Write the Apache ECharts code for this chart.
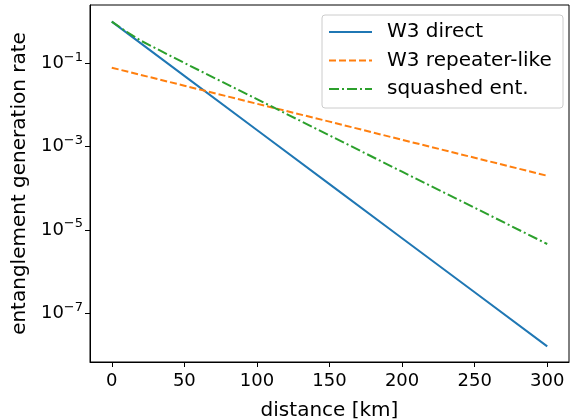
<!DOCTYPE html>
<html>
<head>
<meta charset="utf-8">
<script src="https://cdn.jsdelivr.net/npm/echarts@6/dist/echarts.min.js"></script>
<style>html,body{margin:0;padding:0;background:#fff}#c{width:570px;height:420px}</style>
</head>
<body>
<div id="c"></div>
<script>
var distance = [0, 50, 100, 150, 200, 250, 300];
var w3Direct = [1.0, 0.05, 2.5e-3, 1.26e-4, 6.3e-6, 3.2e-7, 1.6e-8];
var w3Repeater = [0.0785, 0.029, 0.0107, 3.98e-3, 1.46e-3, 5.4e-4, 2.0e-4];
var squashedX = [0, 10, 20, 50, 100, 150, 200, 250, 300];
var squashed = [1.0, 0.58, 0.35, 0.102, 0.0138, 1.86e-3, 2.5e-4, 3.4e-5, 4.6e-6];
var xTicks = [0, 50, 100, 150, 200, 250, 300];
var yTicks = [1e-1, 1e-3, 1e-5, 1e-7];
var seriesNames = ['W3 direct', 'W3 repeater-like', 'squashed ent.'];

function pairs(xs, ys) { return xs.map(function (x, i) { return [x, ys[i]]; }); }

var font = 'DejaVu Sans';
var chart = echarts.init(document.getElementById('c'), null, {renderer: 'canvas'});
chart.setOption({
  animation: false,
  backgroundColor: '#fff',
  grid: {left: 90, right: 1, top: 5, bottom: 58, containLabel: false, outerBoundsMode: 'none',
         show: true, borderColor: '#000', borderWidth: 1, backgroundColor: 'transparent'},
  legend: {
    orient: 'vertical', left: 322, top: 15,
    padding: [6, 6, 8, 6],
    backgroundColor: '#fff', borderColor: '#cccccc', borderWidth: 1, borderRadius: 3,
    itemStyle: {opacity: 0},
    itemWidth: 43, itemHeight: 22, itemGap: 6.5,
    textStyle: {fontFamily: font, fontSize: 20, color: '#000', lineHeight: 22, width: 170, padding: [0, 0, 0, 10]},
    data: seriesNames
  },
  xAxis: {
    type: 'value', min: -15, max: 315,
    name: 'distance [km]', nameLocation: 'middle', nameGap: 39,
    nameTextStyle: {fontFamily: font, fontSize: 20, color: '#000'},
    axisLine: {show: true, onZero: false, lineStyle: {color: '#000', width: 1}},
    axisTick: {show: true, inside: false, length: 5, lineStyle: {color: '#000'}, customValues: xTicks},
    axisLabel: {fontFamily: font, fontSize: 18, color: '#000', margin: 10, customValues: xTicks},
    splitLine: {show: false}
  },
  yAxis: {
    type: 'log', min: Math.pow(10, -8.17), max: Math.pow(10, 0.4),
    name: 'entanglement generation rate', nameLocation: 'middle', nameGap: 55, nameRotate: 90,
    nameTextStyle: {fontFamily: font, fontSize: 20, color: '#000'},
    axisLine: {show: true, onZero: false, lineStyle: {color: '#000', width: 1}},
    axisTick: {show: true, inside: false, length: 5, lineStyle: {color: '#000'}, customValues: yTicks},
    axisLabel: {
      fontFamily: font, fontSize: 18, color: '#000', margin: 7, customValues: yTicks,
      formatter: function (v) {
        var e = Math.round(Math.log10(v));
        return '{b|10}{s|\u2212' + Math.abs(e) + '}';
      },
      rich: {
        b: {fontFamily: font, fontSize: 18, color: '#000'},
        s: {fontFamily: font, fontSize: 13, color: '#000', padding: [0, 0, 12, 0]}
      }
    },
    splitLine: {show: false}
  },
  series: [
    {name: seriesNames[0], type: 'line', symbol: 'none', data: pairs(distance, w3Direct),
     lineStyle: {color: '#1f77b4', width: 2, type: 'solid'}, itemStyle: {color: '#1f77b4'}},
    {name: seriesNames[1], type: 'line', symbol: 'none', data: pairs(distance, w3Repeater),
     lineStyle: {color: '#ff7f0e', width: 2, type: [7, 3]}, itemStyle: {color: '#ff7f0e'}},
    {name: seriesNames[2], type: 'line', symbol: 'none', smooth: false, data: pairs(squashedX, squashed),
     lineStyle: {color: '#2ca02c', width: 2, type: [10, 3, 2, 3]}, itemStyle: {color: '#2ca02c'}}
  ]
});
</script>
</body>
</html>
